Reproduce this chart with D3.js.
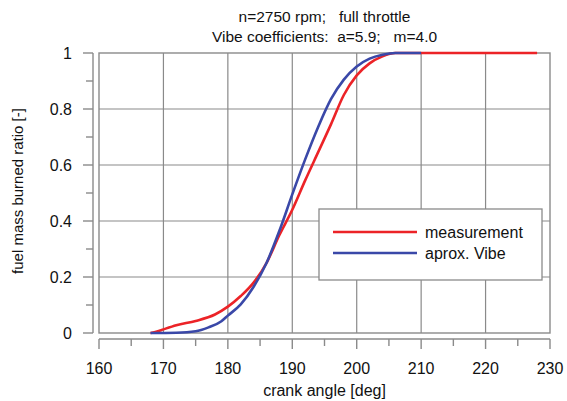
<!DOCTYPE html>
<html>
<head>
<meta charset="utf-8">
<script src="https://cdnjs.cloudflare.com/ajax/libs/d3/7.8.5/d3.min.js"></script>
<style>
  body { margin: 0; background: #fff; }
  text { font-family: Arial, "Liberation Sans", sans-serif; fill: #111; }
</style>
</head>
<body>
<div id="chart"></div>
<script>
// crank angle [deg] and burned ratio
var measAngle = [168, 169, 170, 172, 175, 178, 180, 182, 184, 186, 188, 190, 192, 194, 196, 198, 200, 202, 204, 206, 210, 228];
var measValue = [0, 0.005, 0.013, 0.028, 0.043, 0.066, 0.094, 0.132, 0.18, 0.25, 0.35, 0.44, 0.545, 0.645, 0.745, 0.85, 0.92, 0.963, 0.988, 1, 1, 1];
var vibeAngle = [168, 172, 175, 177, 179, 180, 182, 184, 186, 188, 190, 192, 194, 196, 198, 200, 202, 204, 206, 210];
var vibeValue = [0, 0.001, 0.006, 0.02, 0.042, 0.062, 0.102, 0.165, 0.25, 0.365, 0.495, 0.62, 0.735, 0.835, 0.905, 0.952, 0.98, 0.994, 1, 1];
var xTicks = [160, 170, 180, 190, 200, 210, 220, 230];
var yTicks = [0, 0.2, 0.4, 0.6, 0.8, 1];
var titleLines = ["n=2750 rpm;   full throttle", "Vibe coefficients:  a=5.9;   m=4.0"];
var seriesNames = ["measurement", "aprox. Vibe"];
var seriesColors = ["#ec2327", "#3a48a8"];

var W = 567, H = 401;
var margin = {top: 53, right: 17, bottom: 68, left: 99},
    width = W - margin.left - margin.right,
    height = H - margin.top - margin.bottom;

var x = d3.scaleLinear().domain([160, 230]).range([0, width]);
var y = d3.scaleLinear().domain([0, 1]).range([height, 0]);

var svg = d3.select("#chart").append("svg")
    .attr("width", W).attr("height", H)
  .append("g").attr("transform", "translate(" + margin.left + "," + margin.top + ")");

var gridColor = "#8a8a8a";

// grid
svg.selectAll(".vgrid").data(xTicks.slice(1, -1)).enter().append("line")
    .attr("x1", function(d){ return x(d); }).attr("x2", function(d){ return x(d); })
    .attr("y1", 0).attr("y2", height)
    .style("stroke", gridColor).style("stroke-width", 1.2);
svg.selectAll(".hgrid").data(yTicks.slice(1, -1)).enter().append("line")
    .attr("y1", function(d){ return y(d); }).attr("y2", function(d){ return y(d); })
    .attr("x1", 0).attr("x2", width)
    .style("stroke", gridColor).style("stroke-width", 1.2);

// frame
svg.append("rect").attr("width", width).attr("height", height)
    .style("fill", "none").style("stroke", gridColor).style("stroke-width", 1.4);

// x axis, detached below the frame
var xAxis = svg.append("g").attr("transform", "translate(0," + (height + 6) + ")");
xAxis.append("line").attr("x1", 0).attr("x2", width)
    .style("stroke", gridColor).style("stroke-width", 1.4);
xAxis.selectAll(".xminor").data(d3.range(160, 231, 5)).enter().append("line")
    .attr("x1", function(d){ return x(d); }).attr("x2", function(d){ return x(d); })
    .attr("y1", 0).attr("y2", function(d){ return d % 10 == 0 ? 10 : 7; })
    .style("stroke", gridColor).style("stroke-width", 1.4);
xAxis.selectAll(".xlab").data(xTicks).enter().append("text")
    .attr("x", function(d){ return x(d); }).attr("y", 35)
    .attr("text-anchor", "middle").style("font-size", "16px")
    .text(function(d){ return d; });
svg.append("text").attr("x", width / 2).attr("y", height + 63)
    .attr("text-anchor", "middle").style("font-size", "16px")
    .text("crank angle [deg]");

// y axis, detached left of the frame
var yAxis = svg.append("g").attr("transform", "translate(-6,0)");
yAxis.append("line").attr("y1", 0).attr("y2", height)
    .style("stroke", gridColor).style("stroke-width", 1.4);
yAxis.selectAll(".yminor").data(d3.range(0, 11)).enter().append("line")
    .attr("y1", function(d){ return y(d / 10); }).attr("y2", function(d){ return y(d / 10); })
    .attr("x1", function(d){ return d % 2 == 0 ? -10 : -7; }).attr("x2", 0)
    .style("stroke", gridColor).style("stroke-width", 1.4);
yAxis.selectAll(".ylab").data(yTicks).enter().append("text")
    .attr("x", -21).attr("y", function(d){ return y(d); }).attr("dy", "0.36em")
    .attr("text-anchor", "end").style("font-size", "16px")
    .text(function(d){ return d; });
svg.append("text")
    .attr("transform", "translate(" + (-76) + "," + (height / 2 - 2) + ") rotate(-90)")
    .attr("text-anchor", "middle").style("font-size", "15px")
    .text("fuel mass burned ratio [-]");

// title
svg.selectAll(".title").data(titleLines).enter().append("text")
    .attr("x", width / 2).attr("y", function(d, i){ return -31 + i * 20; })
    .attr("text-anchor", "middle").style("font-size", "15.5px")
    .style("white-space", "pre").attr("xml:space", "preserve")
    .text(function(d){ return d; });

// curves
var line = d3.line()
    .x(function(d){ return x(d[0]); })
    .y(function(d){ return y(d[1]); })
    .curve(d3.curveMonotoneX);

var meas = d3.zip(measAngle, measValue);
var vibe = d3.zip(vibeAngle, vibeValue);

svg.append("path").datum(meas).attr("d", line)
    .style("fill", "none").style("stroke", seriesColors[0]).style("stroke-width", 2.6);
svg.append("path").datum(vibe).attr("d", line)
    .style("fill", "none").style("stroke", seriesColors[1]).style("stroke-width", 2.6);

// legend
var legend = svg.append("g").attr("transform", "translate(" + (319 - margin.left) + "," + (209 - margin.top) + ")");
legend.append("rect").attr("width", 223).attr("height", 71)
    .style("fill", "#fff").style("stroke", gridColor).style("stroke-width", 1.3);
seriesNames.forEach(function(name, i){
  legend.append("line").attr("x1", 14).attr("x2", 98)
      .attr("y1", 23 + i * 21).attr("y2", 23 + i * 21)
      .style("stroke", seriesColors[i]).style("stroke-width", 2.6);
  legend.append("text").attr("x", 106).attr("y", 23 + i * 21).attr("dy", "0.35em")
      .style("font-size", "16px").text(name);
});
</script>
</body>
</html>
